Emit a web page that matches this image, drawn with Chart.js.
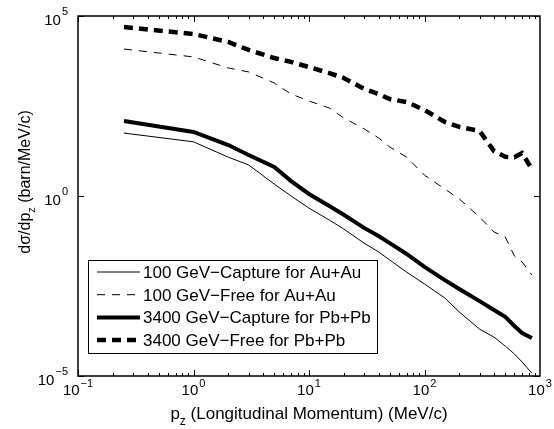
<!DOCTYPE html>
<html>
<head>
<meta charset="utf-8">
<script src="https://cdn.jsdelivr.net/npm/chart.js@4/dist/chart.umd.min.js"></script>
<style>
  html, body { margin: 0; padding: 0; background: #fff; }
  #wrap { width: 554px; height: 429px; position: relative; }
</style>
</head>
<body>
<div id="wrap"><canvas id="pzChart"></canvas></div>
<script>
// -----------------------------
// Data
// -----------------------------
const pz = [0.25, 1, 2, 3, 5, 7, 10, 15, 20, 30, 40, 50, 70, 100, 150, 200, 300, 400, 500, 600, 700, 850];

const captureAu = [56, 32, 12, 7.3, 2.15, 1.0, 0.46, 0.215, 0.121, 0.049, 0.028, 0.0167, 0.0077, 0.0036,
                   0.00147, 6.0e-4, 2.0e-4, 1.2e-4, 6.8e-5, 4.1e-5, 2.45e-5, 1.2e-5];
const freeAu = [1.21e4, 7.3e3, 3.6e3, 2.8e3, 1.38e3, 681, 436, 278, 147, 73, 41, 23, 12, 3.8,
                1.56, 0.83, 0.26, 0.1, 0.073, 0.0215, 0.0147, 0.0064];
const capturePb = [121, 60, 26, 13.8, 6.4, 2.6, 1.14, 0.53, 0.30, 0.13, 0.077, 0.049, 0.0245, 0.0107,
                   0.0046, 0.0026, 0.0012, 6.8e-4, 4.4e-4, 2.45e-4, 1.56e-4, 1.14e-4];
const freePb = [4.95e4, 3.16e4, 1.9e4, 1.14e4, 6.8e3, 5.3e3, 3.8e3, 2.6e3, 1.9e3, 940, 680, 494, 408, 245,
                114, 83, 64, 17.6, 12.3, 12, 15.6, 5.6];

const seriesLabels = ['100 GeV\u2212Capture for Au+Au', '100 GeV\u2212Free for Au+Au',
                      '3400 GeV\u2212Capture for Pb+Pb', '3400 GeV\u2212Free for Pb+Pb'];

const xTickValues = [0.1, 1, 10, 100, 1000];
const xTickExp = ['\u22121', '0', '1', '2', '3'];
const yTickValues = [1e-5, 1, 1e5];
const yTickExp = ['\u22125', '0', '5'];

const FONT = '"Liberation Sans", Arial, Helvetica, sans-serif';

function toPoints(ys) {
    return pz.map((x, i) => ({ x: x, y: ys[i] }));
}

function makeDataset(label, ys, width, dash) {
    return {
        label: label,
        data: toPoints(ys),
        borderColor: '#000',
        backgroundColor: '#000',
        borderWidth: width,
        borderDash: dash,
        pointRadius: 0,
        showLine: true,
        tension: 0
    };
}

// -----------------------------
// Cadre, graduations, titres et légende façon MATLAB
// -----------------------------
const matlabAxes = {
    id: 'matlabAxes',
    afterDraw(chart) {
        const ctx = chart.ctx;
        const area = chart.chartArea;
        const xs = chart.scales.x;
        const ys = chart.scales.y;

        ctx.save();
        ctx.strokeStyle = '#000';
        ctx.fillStyle = '#000';
        ctx.setLineDash([]);

        // ticks x (majeurs + mineurs, en haut et en bas)
        ctx.lineWidth = 1;
        for (let d = -1; d < 3; d++) {
            for (let m = 1; m < 10; m++) {
                const v = m * Math.pow(10, d);
                const px = Math.round(xs.getPixelForValue(v)) + 0.5;
                const len = m === 1 ? 6 : 3;
                ctx.beginPath();
                ctx.moveTo(px, area.bottom); ctx.lineTo(px, area.bottom - len);
                ctx.moveTo(px, area.top); ctx.lineTo(px, area.top + len);
                ctx.stroke();
            }
        }
        // ticks y
        yTickValues.forEach(v => {
            const py = Math.round(ys.getPixelForValue(v)) + 0.5;
            ctx.beginPath();
            ctx.moveTo(area.left, py); ctx.lineTo(area.left + 6, py);
            ctx.moveTo(area.right, py); ctx.lineTo(area.right - 6, py);
            ctx.stroke();
        });

        // cadre
        ctx.lineWidth = 1.5;
        ctx.strokeRect(area.left, area.top, area.right - area.left, area.bottom - area.top);

        // labels x : 10^n
        ctx.textBaseline = 'alphabetic';
        xTickValues.forEach((v, i) => {
            const px = xs.getPixelForValue(v);
            ctx.font = '15px ' + FONT;
            const wb = ctx.measureText('10').width;
            ctx.font = '11px ' + FONT;
            const we = ctx.measureText(xTickExp[i]).width;
            const x0 = px - (wb + we + 1) / 2;
            ctx.textAlign = 'left';
            ctx.font = '15px ' + FONT;
            ctx.fillText('10', x0, 395);
            ctx.font = '11px ' + FONT;
            ctx.fillText(xTickExp[i], x0 + wb + 1, 387);
        });

        // labels y
        yTickValues.forEach((v, i) => {
            const py = ys.getPixelForValue(v);
            ctx.font = '11px ' + FONT;
            ctx.textAlign = 'right';
            const we = ctx.measureText(yTickExp[i]).width;
            ctx.fillText(yTickExp[i], 68, py - 1);
            ctx.font = '15px ' + FONT;
            ctx.fillText('10', 68 - we - 1, py + 9);
        });

        // titre x : p_z (Longitudinal Momentum) (MeV/c)
        ctx.textAlign = 'left';
        const xMain = ' (Longitudinal Momentum) (MeV/c)';
        ctx.font = '17px ' + FONT;
        const wp = ctx.measureText('p').width;
        const wm = ctx.measureText(xMain).width;
        ctx.font = '12px ' + FONT;
        const wz = ctx.measureText('z').width;
        let tx = (area.left + area.right) / 2 - (wp + wz + wm) / 2;
        ctx.font = '17px ' + FONT;
        ctx.fillText('p', tx, 419);
        ctx.font = '12px ' + FONT;
        ctx.fillText('z', tx + wp, 425);
        ctx.font = '17px ' + FONT;
        ctx.fillText(xMain, tx + wp + wz, 419);

        // titre y : dσ/dp_z (barn/MeV/c)
        ctx.save();
        ctx.translate(30, (area.top + area.bottom) / 2 - 14);
        ctx.rotate(-Math.PI / 2);
        ctx.font = '16px ' + FONT;
        const w1 = ctx.measureText('d\u03c3/dp').width;
        const w2 = ctx.measureText(' (barn/MeV/c)').width;
        ctx.font = '11px ' + FONT;
        const wz2 = ctx.measureText('z').width;
        let ty = -(w1 + wz2 + w2) / 2;
        ctx.font = '16px ' + FONT;
        ctx.fillText('d\u03c3/dp', ty, 0);
        ctx.font = '11px ' + FONT;
        ctx.fillText('z', ty + w1, 5);
        ctx.font = '16px ' + FONT;
        ctx.fillText(' (barn/MeV/c)', ty + w1 + wz2, 0);
        ctx.restore();

        // légende
        const lx = 88, ly = 260, lw = 289, lh = 93;
        ctx.fillStyle = '#fff';
        ctx.fillRect(lx, ly, lw, lh);
        ctx.strokeStyle = '#000';
        ctx.lineWidth = 1;
        ctx.strokeRect(lx + 0.5, ly + 0.5, lw, lh);
        ctx.fillStyle = '#000';
        ctx.font = '17px ' + FONT;
        chart.data.datasets.forEach((ds, i) => {
            const cy = ly + 12 + i * 22.7;
            ctx.beginPath();
            ctx.lineWidth = ds.borderWidth;
            ctx.setLineDash(ds.borderDash || []);
            ctx.moveTo(lx + 9, cy);
            ctx.lineTo(lx + 52, cy);
            ctx.stroke();
            ctx.setLineDash([]);
            ctx.fillText(ds.label, lx + 55, cy + 6);
        });

        ctx.restore();
    }
};

new Chart(document.getElementById('pzChart').getContext('2d'), {
    type: 'scatter',
    data: {
        datasets: [
            makeDataset(seriesLabels[0], captureAu, 1, []),
            makeDataset(seriesLabels[1], freeAu, 1, [8, 7]),
            makeDataset(seriesLabels[2], capturePb, 4, []),
            makeDataset(seriesLabels[3], freePb, 4.5, [9, 6])
        ]
    },
    options: {
        responsive: true,
        maintainAspectRatio: false,
        animation: false,
        layout: { padding: { left: 78, top: 16, right: 14, bottom: 53 } },
        plugins: { legend: { display: false }, tooltip: { enabled: false } },
        scales: {
            x: { type: 'logarithmic', min: 0.1, max: 1000, display: false },
            y: { type: 'logarithmic', min: 1e-5, max: 1e5, display: false }
        }
    },
    plugins: [matlabAxes]
});
</script>
</body>
</html>
